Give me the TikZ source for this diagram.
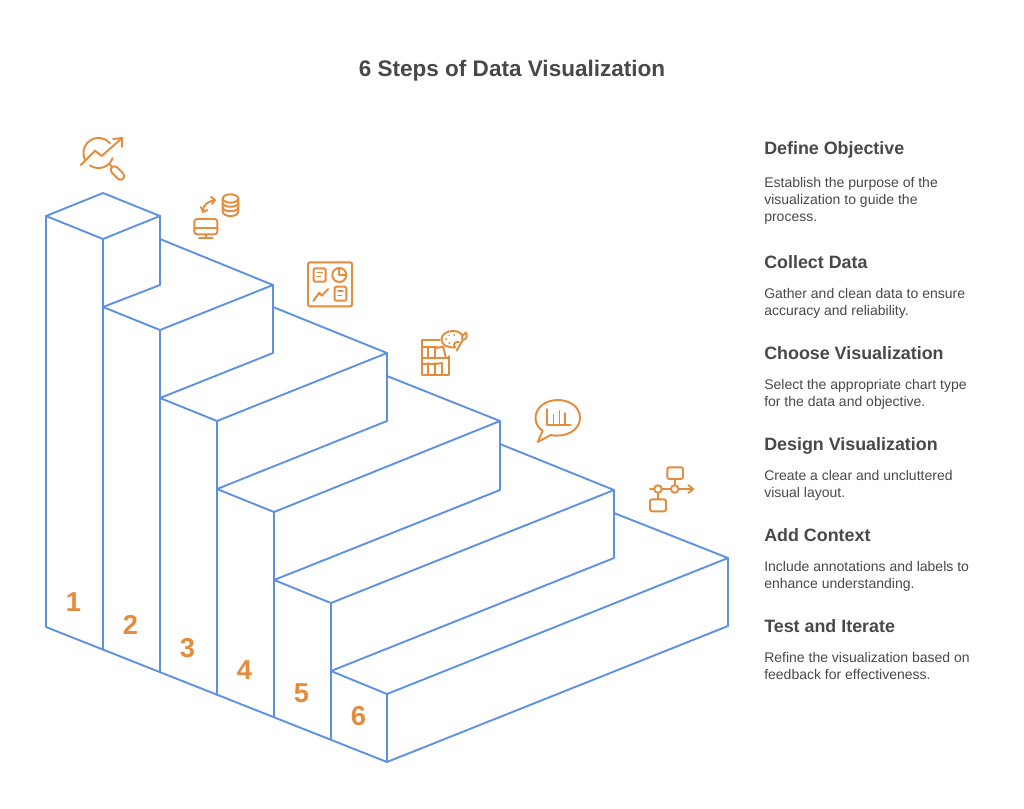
\documentclass[tikz,border=0pt]{standalone}
\usepackage{fontspec}
\setmainfont{Liberation Sans}
\definecolor{stepblue}{HTML}{5B8FE8}
\definecolor{iconorange}{HTML}{E58B3C}
\definecolor{inkgray}{HTML}{484848}
\tikzset{
  edge/.style={draw=stepblue,line width=1.4pt,line join=round,line cap=round},
  ico/.style={draw=iconorange,line width=1.45pt,line join=round,line cap=round},
  icothin/.style={draw=iconorange,line width=1.1pt,line join=round,line cap=round},
  num/.style={text=iconorange,font=\fontsize{20.5}{24}\selectfont\bfseries,inner sep=0pt},
  head/.style={text=inkgray,font=\fontsize{13.4}{16}\selectfont\bfseries,anchor=base west,inner sep=0pt},
  body/.style={text=inkgray,font=\fontsize{10.5}{12.75}\selectfont,anchor=north west,inner sep=0pt,align=left},
}
\begin{document}
\begin{tikzpicture}[x=0.75pt,y=-0.75pt]
\useasboundingbox (0,0) rectangle (1024,808);
\node[text=inkgray,font=\fontsize{16.9}{22}\selectfont\bfseries,inner sep=0pt] (title) at (512,71) {6 Steps of Data Visualization};

% ---- stairs
\draw[edge] (46,216) -- (103,193) -- (160,216) -- (103,239) -- cycle;
\draw[edge] (46,216) -- (46,627) -- (387,762) -- (387,694);
\draw[edge] (103,239) -- (103,650);
\draw[edge] (160,216) -- (160,285) -- (103,307) -- (160,330) -- (273,285) -- (160,239);
\draw[edge] (160,330) -- (160,672);
\draw[edge] (273,285) -- (273,353) -- (160,398) -- (217,421) -- (387,353) -- (273,307);
\draw[edge] (217,421) -- (217,695);
\draw[edge] (387,353) -- (387,421) -- (217,489) -- (274,512) -- (500,421) -- (387,376);
\draw[edge] (274,512) -- (274,717);
\draw[edge] (500,421) -- (500,490) -- (274,580) -- (331,603) -- (614,490) -- (500,444);
\draw[edge] (331,603) -- (331,740);
\draw[edge] (614,490) -- (614,558) -- (331,671) -- (387,694) -- (728,558) -- (614,513);
\draw[edge] (728,558) -- (728,626) -- (387,762);

% ---- numbers
\node[num] (n1) at (73.5,602) {1};
\node[num] (n2) at (130.5,625) {2};
\node[num] (n3) at (187.5,648) {3};
\node[num] (n4) at (244.5,670) {4};
\node[num] (n5) at (301.5,693) {5};
\node[num] (n6) at (358.5,716) {6};

% ---- icon 1: magnifier and trend
\draw[ico] plot[smooth,samples=30,domain=150:320] ({98.5+15*cos(\x)},{153+15*sin(\x)});
\draw[ico] plot[smooth,samples=20,domain=20:125] ({98.5+15*cos(\x)},{153+15*sin(\x)});
\draw[ico] (80.7,165) -- (95,150.7) -- (101.7,156) -- (121,139);
\draw[ico] (113,139) -- (122,138) -- (122,147);
\draw[ico] (109.5,164) -- (112,167);
\draw[ico,rounded corners=2.6pt,rotate around={-45:(117.5,173)}] (109.5,169.3) rectangle (125.5,176.7);

% ---- icon 2: monitor, database
\draw[ico,rounded corners=2pt] (194.3,219) rectangle (217.3,234.3);
\draw[ico] (194.3,228.3) -- (217.3,228.3);
\draw[ico] (205.7,234.3) -- (205.7,237.7);
\draw[ico] (199,237.7) -- (212.7,237.7);
\draw[ico] (230.5,198.5) ellipse[x radius=7.8,y radius=4.2];
\draw[ico] (222.7,198.5) -- (222.7,211.5) .. controls (222.7,217.5) and (238.3,217.5) .. (238.3,211.5) -- (238.3,198.5);
\draw[ico] (222.7,203) .. controls (222.7,208) and (238.3,208) .. (238.3,203);
\draw[ico] (222.7,207.5) .. controls (222.7,212.5) and (238.3,212.5) .. (238.3,207.5);
\draw[ico] (203,211) .. controls (203,205) and (208,201) .. (214.5,200.5);
\draw[ico] (211,197) -- (215,200) -- (212,204);
\draw[ico] (201,207) -- (203,212) -- (207.5,210);

% ---- icon 3: dashboard
\draw[ico,rounded corners=1pt] (308,262.3) rectangle (352,306.3);
\draw[ico,rounded corners=1pt] (313.7,268.3) rectangle (325.7,281.7);
\draw[icothin] (317,272.5) -- (322.5,272.5) (317,276.5) -- (320.5,276.5);
\draw[ico] (339.3,275) circle[radius=7];
\draw[ico] (339.3,268) -- (339.3,275) -- (346.3,275);
\draw[ico] (313.3,301) -- (319.3,292.7) -- (321.7,295.7) -- (328.3,289);
\draw[ico,rounded corners=1pt] (334.7,286.7) rectangle (346.3,300.7);
\draw[icothin] (338,291) -- (343,291) (338,295.5) -- (341.5,295.5);

% ---- icon 4: bookshelf, palette
\draw[ico] (440,340) -- (421.7,340) -- (421.7,375) -- (449,375) -- (449,356);
\draw[ico] (421.7,346.7) -- (437,346.7);
\draw[ico] (421.7,358) -- (449,358);
\draw[ico] (428,346.7) -- (428,358) (435,346.7) -- (435,358);
\draw[ico] (437,348) -- (443,346.5) -- (446,358);
\draw[ico] (428,363) -- (428,375) (435,363) -- (435,375) (442,363) -- (442,375);
\draw[ico] (421.7,364) -- (435,364) -- (442,363);
\draw[ico] (455,347.5) .. controls (447,347.5) and (441.5,345) .. (441.5,339.5) .. controls (441.5,334) and (447,331) .. (453,331) .. controls (458,331) and (461.5,333) .. (462.5,336);
\draw[ico] (455,347.5) .. controls (452.5,344) and (455,341.5) .. (459,342);
\draw[icothin] (446,339) -- (446.4,339) (449,335.5) -- (449.4,335.5) (454,335) -- (454.4,335) (449,343) -- (449.4,343);
\draw[ico] (456.7,350.5) -- (462.7,340);
\draw[ico] (462.7,340) .. controls (460.5,337) and (464,334) .. (466,332.5) .. controls (467.5,335.5) and (467,339.5) .. (462.7,340);

% ---- icon 5: speech bubble with bars
\draw[ico] (542.7,430.7) -- (537.7,442) -- (550.7,435) .. controls (566,438) and (580,430) .. (580,418) .. controls (580,407) and (570,400) .. (557.7,400) .. controls (545,400) and (535.5,408) .. (535.5,418) .. controls (535.5,423) and (538,428) .. (542.7,430.7);
\draw[ico] (546.7,409) -- (546.7,425) -- (570.7,425);
\draw[ico] (553.5,415) -- (553.5,425);
\draw[ico] (559.5,411) -- (559.5,425);
\draw[ico] (565,413) -- (565,425);

% ---- icon 6: flow
\draw[ico,rounded corners=1.5pt] (667.3,467.3) rectangle (683,479);
\draw[ico,rounded corners=1.5pt] (650,499.3) rectangle (666,511.3);
\draw[ico] (658,489) circle[radius=3.8];
\draw[ico] (674.7,489) circle[radius=3.8];
\draw[ico] (650,489) -- (654.2,489) (661.8,489) -- (670.9,489) (678.5,489) -- (693,489);
\draw[ico] (688.3,485) -- (693,489) -- (688.3,493);
\draw[ico] (675,479) -- (675,485.2);
\draw[ico] (658,492.8) -- (658,499.3);

% ---- text column
\node[head] (h1) at (764,154) {Define Objective};
\node[body] (b1) at (764,177) {Establish the purpose of the\\visualization to guide the\\process.};
\node[head] (h2) at (764,268) {Collect Data};
\node[body] (b2) at (764,288) {Gather and clean data to ensure\\accuracy and reliability.};
\node[head] (h3) at (764,359) {Choose Visualization};
\node[body] (b3) at (764,379) {Select the appropriate chart type\\for the data and objective.};
\node[head] (h4) at (764,450) {Design Visualization};
\node[body] (b4) at (764,470) {Create a clear and uncluttered\\visual layout.};
\node[head] (h5) at (764,541) {Add Context};
\node[body] (b5) at (764,561) {Include annotations and labels to\\enhance understanding.};
\node[head] (h6) at (764,632) {Test and Iterate};
\node[body] (b6) at (764,652) {Refine the visualization based on\\feedback for effectiveness.};
\end{tikzpicture}
\end{document}
